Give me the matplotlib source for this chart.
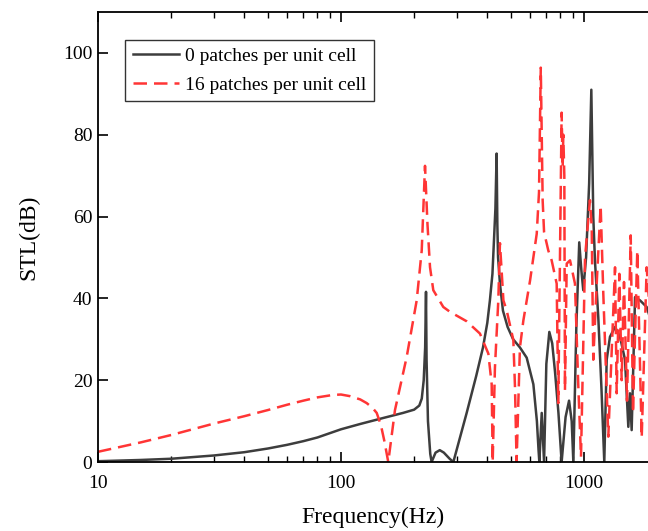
import matplotlib
matplotlib.use("Agg")
import matplotlib.pyplot as plt
from matplotlib.ticker import LogLocator, NullFormatter, FixedLocator

plt.rcParams['font.family'] = ['Liberation Serif', 'DejaVu Serif']

# 0 patches per unit cell
freq0 = [10, 15, 20, 30, 40, 50, 60, 70, 80, 100, 120, 150, 180, 200, 210, 215, 219, 222,
         223.8, 225, 228, 233, 236, 245, 255, 265, 280, 290, 329, 360, 384, 400, 410, 420,
         426, 432, 437, 440, 443, 451, 464, 485, 511, 545, 581, 619, 640, 650, 655, 670, 685,
         700, 720, 740, 760, 785, 809, 840, 868, 890, 904, 930, 956, 975, 993, 1020, 1050,
         1072, 1092, 1110, 1145, 1180, 1212, 1240, 1279, 1342, 1407, 1475, 1522, 1546, 1571,
         1622, 1701, 1811, 1900]
stl0 = [0.2, 0.5, 0.8, 1.6, 2.4, 3.3, 4.2, 5.1, 6.0, 8.0, 9.3, 10.8, 12.0, 12.8, 13.8, 15.5, 20.0, 28.0,
        41.6, 25.0, 10.0, 2.0, 0.0, 2.3, 2.9, 2.3, 0.8, 0.0, 12.0, 21.0, 28.0, 34.0, 39.5, 46.0,
        54.0, 62.0, 75.4, 58.0, 50.0, 43.6, 37.0, 33.0, 30.0, 28.0, 25.5, 19.0, 10.0, 3.0, 0.0, 12.0, 0.0,
        24.0, 31.8, 29.0, 22.0, 12.0, 0.0, 11.0, 15.0, 10.0, 0.0, 33.0, 53.7, 47.0, 42.0, 50.0, 68.0,
        91.0, 60.0, 49.0, 35.4, 18.0, 0.0, 25.0, 30.6, 33.0, 30.6, 25.0, 8.6, 16.8, 7.8,
        40.3, 39.5, 37.9, 34.0]

# 16 patches per unit cell
freq16 = [10, 15, 20, 30, 40, 50, 60, 70, 80, 92.7, 100, 108.9, 120, 127.6, 135, 140.3, 146,
          151, 156.5, 166.8, 186.4, 204.9, 214.9, 221.7, 227, 232.5, 239.8, 263.6, 281, 329,
          373, 404, 417, 421, 430, 444, 451, 466, 481, 512, 520, 528, 545, 563, 600, 639, 653,
          664, 676, 685, 713, 736, 772, 784, 809, 817, 822, 830, 835, 849, 876, 918, 947, 972,
          1010, 1058, 1076, 1092, 1131, 1171, 1201, 1259, 1342, 1363, 1398, 1429, 1461, 1503,
          1557, 1591, 1657, 1728, 1811, 1900]
stl16 = [2.5, 4.8, 6.6, 9.4, 11.2, 12.7, 14.0, 15.0, 15.8, 16.4, 16.5, 16.1, 15.3, 14.4, 13.2, 12.0, 9.0,
         5.0, 0.0, 12.7, 25.7, 39.5, 51.7, 72.4, 58.0, 47.6, 42.0, 37.9, 36.7, 34.4,
         31.4, 26.5, 19.0, 0.0, 23.0, 39.5, 53.5, 39.5, 37.0, 29.8, 18.4, 0.0, 28.0, 34.6, 44.4, 55.8, 66.0,
         96.4, 63.9, 56.2, 51.7, 49.3, 43.6, 14.4, 85.4, 72.0, 80.0, 70.0, 17.5, 48.5, 49.3, 43.6, 19.0, 1.3,
         50.0, 64.0, 57.4, 25.0, 45.0, 62.7, 41.0, 6.2, 47.6, 16.8, 46.0, 20.0, 44.0, 15.0,
         55.4, 12.0, 51.7, 6.0, 47.6, 30.0]

xticks = [10, 100, 1000]
yticks = [0, 20, 40, 60, 80, 100]

fig = plt.figure(figsize=(6.48, 5.31), dpi=100)
ax = fig.add_axes([0.1512, 0.1299, 0.8488, 0.8475])

ax.plot(freq0, stl0, color='#3d3d3d', lw=1.8, label='0 patches per unit cell')
l16, = ax.plot(freq16, stl16, color='#ff3535', lw=1.8, label='16 patches per unit cell')
l16.set_dashes([5.4, 2.8])

ax.set_xscale('log')
ax.set_xlim(10, 1834)
ax.set_ylim(0, 110)
ax.xaxis.set_major_locator(FixedLocator(xticks))
ax.set_xticklabels([str(t) for t in xticks])
ax.xaxis.set_minor_locator(LogLocator(base=10, subs=range(2, 10), numticks=20))
ax.xaxis.set_minor_formatter(NullFormatter())
ax.set_yticks(yticks)

ax.spines['right'].set_visible(False)
for s in ['left', 'bottom', 'top']:
    ax.spines[s].set_linewidth(1.3)

ax.tick_params(axis='x', which='major', direction='in', length=7, width=1.2, top=True,
               labelsize=14, pad=9)
ax.tick_params(axis='x', which='minor', direction='in', length=4, width=1.0, top=True)
ax.tick_params(axis='y', which='major', direction='in', length=7, width=1.2, right=False,
               labelsize=14, pad=4)

ax.set_xlabel('Frequency(Hz)', fontsize=17, labelpad=11)
ax.set_ylabel('STL(dB)', fontsize=17, labelpad=17)

leg = ax.legend(loc='upper left', bbox_to_anchor=(0.049, 0.938), borderaxespad=0,
                fontsize=14, frameon=True, fancybox=False, edgecolor='black',
                handlelength=2.4, handletextpad=0.3, labelspacing=0.55, borderpad=0.4)
leg.get_frame().set_linewidth(1.0)

fig.savefig('out.png', dpi=100)
